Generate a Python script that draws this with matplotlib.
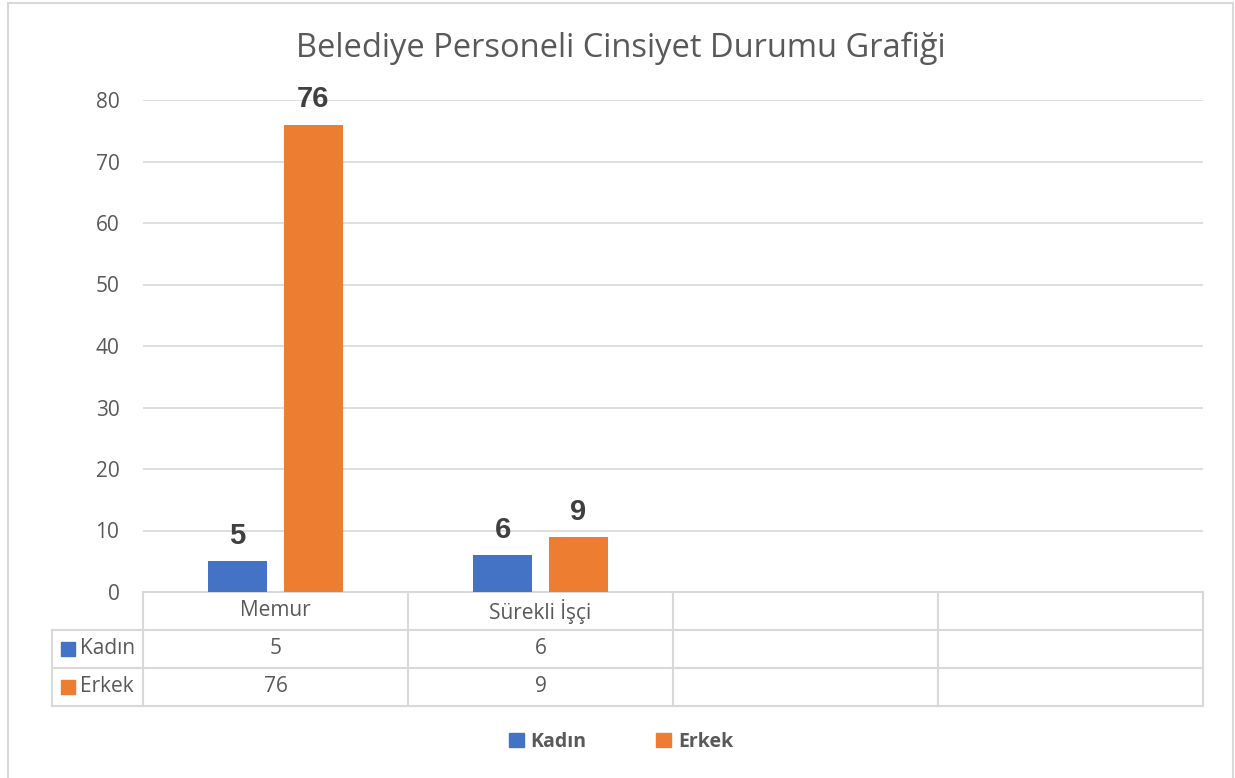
import numpy as np
import matplotlib
matplotlib.use("Agg")
import matplotlib.pyplot as plt
from matplotlib.patches import Rectangle
from matplotlib.lines import Line2D
import matplotlib.transforms as mtransforms

# veriler
kategoriler = ["Memur", "Sürekli İşçi", "", ""]
seriler = ["Kadın", "Erkek"]
kadin = [5, 6, np.nan, np.nan]
erkek = [76, 9, np.nan, np.nan]
renkler = ["#4472C4", "#ED7D31"]

W, H = 1235, 778
GRI = "#595959"
CIZGI = "#D9D9D9"
YAZI = 15
plt.rcParams["font.family"] = ["Open Sans", "DejaVu Sans"]

fig = plt.figure(figsize=(W / 100, H / 100), dpi=100)
fig.patch.set_facecolor("white")

# cizim alani (piksel olarak: x 143-1203, y 100-592)
ax = fig.add_axes([143 / W, 1 - 592 / H, 1060 / W, 492 / H])
x = np.arange(len(kategoriler))
genislik = 0.223
kaydir = 0.143

for i, (ad, degerler) in enumerate(zip(seriler, [kadin, erkek])):
    konum = x + (-kaydir if i == 0 else kaydir)
    bars = ax.bar(konum, degerler, genislik, color=renkler[i], zorder=3, label=ad)
    for b, v in zip(bars, degerler):
        if np.isnan(v):
            continue
        ax.annotate(f"{v:g}", (b.get_x() + b.get_width() / 2, v),
                    xytext=(0, 8), textcoords="offset points",
                    ha="center", va="bottom", fontsize=21, fontweight="bold",
                    color="#404040", family="Liberation Sans")

ax.set_xlim(-0.5, len(kategoriler) - 0.5)
ax.set_ylim(0, 80)
ax.set_yticks(range(0, 81, 10))
ax.yaxis.grid(True, color=CIZGI, linewidth=1.2, zorder=0)
ax.set_axisbelow(True)
for s in ax.spines.values():
    s.set_visible(False)
ax.tick_params(axis="y", length=0, pad=17, labelsize=YAZI, labelcolor=GRI)
ax.tick_params(axis="x", length=0, labelbottom=False)

fig.text(621 / W, 1 - 48 / H, "Belediye Personeli Cinsiyet Durumu Grafiği",
         fontsize=23.5, color=GRI, ha="center", va="center")

# veri tablosu
tr = mtransforms.blended_transform_factory(ax.transData, ax.transAxes)
ah = 492.0
satir_y = [0, -38 / ah, -76 / ah, -114 / ah]
sol = -0.5 - 91 / 265.0
sag = len(kategoriler) - 0.5


def cizgi(xs, ys):
    ax.add_line(Line2D(xs, ys, transform=tr, color=CIZGI, linewidth=1.5,
                       clip_on=False, zorder=1))


cizgi([-0.5, sag], [satir_y[0]] * 2)
for yy in satir_y[1:]:
    cizgi([sol, sag], [yy, yy])
for xx in np.arange(-0.5, sag + 0.01, 1.0):
    cizgi([xx, xx], [satir_y[0], satir_y[3]])
cizgi([sol, sol], [satir_y[1], satir_y[3]])

for j, kat in enumerate(kategoriler):
    ym = (satir_y[0] + satir_y[1]) / 2
    ax.text(j, ym, kat, transform=tr, ha="center", va="center",
            fontsize=YAZI, color=GRI)
    for r, degerler in enumerate([kadin, erkek]):
        v = degerler[j]
        if np.isnan(v):
            continue
        ym = (satir_y[r + 1] + satir_y[r + 2]) / 2
        ax.text(j, ym, f"{v:g}", transform=tr, ha="center", va="center",
                fontsize=YAZI, color=GRI)

for r, ad in enumerate(seriler):
    ym = (satir_y[r + 1] + satir_y[r + 2]) / 2
    kare = 14 / ah
    ax.add_patch(Rectangle((sol + 9 / 265.0, ym - kare / 2), 14 / 265.0, kare,
                           transform=tr, color=renkler[r], clip_on=False))
    ax.text(sol + 28 / 265.0, ym, ad, transform=tr, ha="left", va="center",
            fontsize=YAZI, color=GRI)

# lejant
tutamak = [Rectangle((0, 0), 1, 1, color=c) for c in renkler]
fig.legend(tutamak, seriler, loc="center", bbox_to_anchor=(621 / W, 36 / H),
           ncol=2, frameon=False, handlelength=0.75, handleheight=0.75,
           handletextpad=0.35, columnspacing=3.6,
           prop={"family": "Open Sans", "weight": "bold", "size": 14},
           labelcolor=GRI)

# dis cerceve
fig.patches.append(Rectangle((7.5 / W, -0.05), 1225.5 / W, 1.05 - 2.5 / H,
                             transform=fig.transFigure, fill=False,
                             edgecolor=CIZGI, linewidth=1.5))

fig.savefig("out.png", dpi=100)
